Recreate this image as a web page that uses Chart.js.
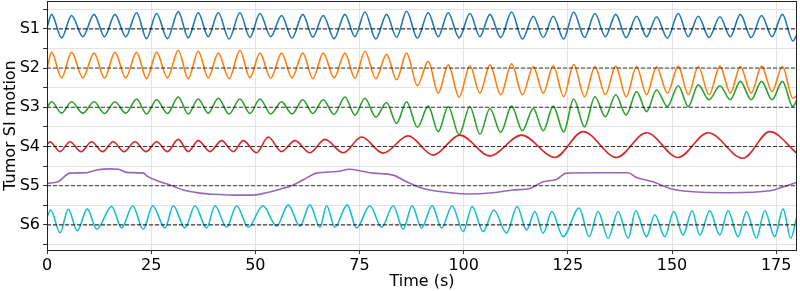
<!DOCTYPE html>
<html>
<head>
<meta charset="utf-8">
<script src="https://cdn.jsdelivr.net/npm/chart.js@4/dist/chart.umd.min.js"></script>
<style>
  body { margin: 0; background: #fff; }
  #wrap { width: 800px; height: 291px; }
</style>
</head>
<body>
<div id="wrap"><canvas id="chart1"></canvas></div>
<script>
// series names, top to bottom, and their vertical offsets
const seriesNames = ['S1', 'S2', 'S3', 'S4', 'S5', 'S6'];
const seriesOffset = [5, 4, 3, 2, 1, 0];
const seriesColor = ['#1f77b4', '#ff7f0e', '#2ca02c', '#d62728', '#9467bd', '#17becf'];
const xTicks = [0, 25, 50, 75, 100, 125, 150, 175];

// peaks / troughs (time in s, motion relative to the dashed line)
// S1, S2 and S3 breathe in step, so they share one time list
const s123Time = [0,1.1,3.5,5.9,8.6,11.3,13.8,16.3,18.9,21.5,23.9,26.3,28.9,31.5,33.9,36.3,38.7,41.1,43.7,46.3,48.7,51.1,53.7,56.3,58.8,61.4,63.8,66.3,68.9,71.5,73.9,76.3,78.9,81.5,83.9,86.3,88.9,91.5,93.9,96.3,98.9,101.5,103.9,106.3,108.9,111.5,114.1,116.7,119.1,121.5,124.0,126.4,129.0,131.5,134.0,136.5,139.0,141.5,143.9,146.3,148.9,151.5,153.9,156.3,158.9,161.5,164.0,166.4,169.0,171.5,174.0,176.5,179.0,180];
const s1Value = [0.03,0.37,-0.23,0.34,-0.2,0.37,-0.2,0.37,-0.2,0.41,-0.25,0.39,-0.25,0.44,-0.23,0.41,-0.2,0.41,-0.26,0.41,-0.22,0.39,-0.2,0.34,-0.24,0.37,-0.21,0.34,-0.25,0.37,-0.2,0.43,-0.26,0.37,-0.22,0.45,-0.24,0.41,-0.2,0.41,-0.23,0.39,-0.2,0.37,-0.22,0.43,-0.26,0.32,-0.22,0.32,-0.26,0.43,-0.22,0.39,-0.2,0.37,-0.22,0.32,-0.2,0.31,-0.24,0.39,-0.2,0.32,-0.22,0.31,-0.2,0.37,-0.22,0.34,-0.2,0.37,-0.31,-0.15];
const s2Value = [-0.02,0.40,-0.25,0.40,-0.25,0.38,-0.26,0.40,-0.25,0.40,-0.27,0.40,-0.25,0.45,-0.27,0.43,-0.25,0.38,-0.27,0.45,-0.25,0.38,-0.26,0.38,-0.25,0.38,-0.27,0.38,-0.25,0.38,-0.26,0.43,-0.27,0.35,-0.30,0.38,-0.45,0.17,-0.64,0.08,-0.74,0.06,-0.64,0.08,-0.68,0.11,-0.68,0.04,-0.64,0.06,-0.73,0.09,-0.73,0.04,-0.68,0.05,-0.73,0.04,-0.68,0.03,-0.64,0.05,-0.68,0.04,-0.68,0.05,-0.64,0.04,-0.64,0.05,-0.60,0.04,-0.77,-0.7];
const s3Value = [0.0,0.14,-0.15,0.14,-0.15,0.14,-0.16,0.14,-0.15,0.21,-0.17,0.19,-0.16,0.26,-0.17,0.21,-0.15,0.23,-0.17,0.21,-0.16,0.21,-0.17,0.14,-0.17,0.19,-0.16,0.19,-0.18,0.26,-0.2,0.23,-0.25,0.12,-0.41,0.14,-0.51,0.03,-0.62,0.02,-0.70,0.02,-0.69,-0.03,-0.64,0.03,-0.6,-0.03,-0.6,0.03,-0.63,0.21,-0.5,0.27,-0.24,0.32,-0.2,0.40,-0.11,0.44,0.02,0.55,0.02,0.57,0.19,0.55,0.19,0.66,0.19,0.66,0.19,0.66,0.02,0.19];

const s4Time = [0,0.72,3.12,5.52,8.16,10.72,13.32,15.91,18.47,21.11,23.75,26.32,28.91,31.5,33.9,36.3,39.11,41.91,44.7,47.1,50.31,53.09,56.31,59.5,63.1,66.7,71.09,75.5,80.69,86.68,92.68,99.09,106.29,113.89,121.88,128.67,136.68,143.88,151.46,158.66,167.05,173.46,179.94];
const s4Value = [0.05,0.12,-0.13,0.12,-0.13,0.12,-0.13,0.12,-0.13,0.12,-0.13,0.12,-0.13,0.18,-0.13,0.15,-0.13,0.15,-0.13,0.15,-0.16,0.24,-0.13,0.15,-0.16,0.18,-0.16,0.24,-0.17,0.27,-0.22,0.29,-0.24,0.29,-0.28,0.38,-0.28,0.35,-0.28,0.35,-0.3,0.38,-0.17];

const s5Time = [0,2.64,5.52,9.52,11.92,15.12,17.11,19.12,23.1,24.23,27.11,29.51,32.7,36.71,39.83,44.63,49.42,52.71,55.9,59.09,61.49,64.71,69.51,72.7,75.1,78.29,83.09,86.3,90.28,94.29,100.7,107.08,111.88,115.88,119.07,122.29,124.69,131.89,139.47,141.48,145.47,149.47,154.27,163.87,173.46,176.65,179.87];
const s5Value = [0.06,0.1,0.32,0.33,0.4,0.43,0.42,0.34,0.32,0.23,0.1,0.02,-0.11,-0.19,-0.22,-0.24,-0.24,-0.18,-0.09,0.02,0.15,0.32,0.36,0.42,0.38,0.32,0.27,0.1,-0.07,-0.15,-0.21,-0.18,-0.11,-0.07,0.1,0.16,0.32,0.33,0.33,0.21,0.1,-0.07,-0.15,-0.18,-0.13,-0.03,0.08];

const s6Time = [0,0.89,3.12,5.11,7.27,9.67,11.92,15.52,17.92,20.56,23.1,25.36,28.31,30.3,33.11,35.51,38.32,40.31,43.11,45.51,48.3,51.82,55.11,57.89,60.7,63.1,65.5,67.11,69.1,72.05,74.3,77.5,80.3,83.09,85.48,87.64,89.9,92.44,94.7,97.24,99.88,102.04,104.68,107.25,110.29,112.84,115.09,117.08,119.07,121.16,123.87,127.71,130.11,132.27,134.67,137.07,139.47,141.31,143.88,145.87,148.27,150.43,152.66,154.82,156.67,159.07,161.47,163.46,165.86,167.87,170.27,172.26,174.66,176.65,178.5,179.94];
const s6Value = [0.2,0.38,-0.2,0.4,-0.15,0.41,-0.11,0.47,-0.08,0.49,-0.11,0.49,-0.08,0.49,-0.08,0.49,-0.08,0.49,-0.06,0.49,-0.06,0.49,-0.03,0.51,-0.03,0.51,-0.06,0.49,-0.06,0.51,-0.08,0.49,-0.06,0.49,-0.11,0.49,-0.08,0.49,-0.08,0.49,-0.17,0.47,-0.17,0.38,-0.21,0.47,-0.13,0.34,-0.21,0.34,-0.3,0.43,-0.3,0.34,-0.34,0.34,-0.34,0.36,-0.3,0.26,-0.3,0.34,-0.26,0.36,-0.26,0.36,-0.26,0.36,-0.3,0.34,-0.34,0.36,-0.3,0.41,-0.34,0.2];

const seriesTime = [s123Time, s123Time, s123Time, s4Time, s5Time, s6Time];
const seriesValue = [s1Value, s2Value, s3Value, s4Value, s5Value, s6Value];

Chart.defaults.font.family = 'DejaVu Sans';
Chart.defaults.font.size = 16;
Chart.defaults.color = '#000';

let datasets = [];
seriesNames.forEach((name, i) => {
    datasets.push({
        label: name,
        data: seriesTime[i].map((t, k) => ({ x: t, y: seriesOffset[i] + seriesValue[i][k] })),
        borderColor: seriesColor[i],
        borderWidth: 1.6,
        pointRadius: 0,
        cubicInterpolationMode: 'monotone',
        order: 10 - i
    });
});
// dashed zero line for each trace
seriesOffset.forEach(off => {
    datasets.push({
        data: [{ x: 0, y: off }, { x: 180, y: off }],
        borderColor: 'rgba(0,0,0,0.75)',
        borderWidth: 1.1,
        borderDash: [4, 2],
        pointRadius: 0,
        order: 0
    });
});

// box around the plot, like matplotlib spines
const frame = {
    id: 'frame',
    afterDatasetsDraw(chart) {
        const a = chart.chartArea, c = chart.ctx;
        c.save();
        c.strokeStyle = '#222';
        c.lineWidth = 1;
        c.strokeRect(Math.round(a.left) + 0.5, Math.round(a.top) + 0.5, Math.round(a.right - a.left) - 1, Math.round(a.bottom - a.top));
        c.restore();
    }
};

const ctx = document.getElementById('chart1').getContext('2d');
const chart = new Chart(ctx, {
    type: 'line',
    data: { datasets: datasets },
    plugins: [frame],
    options: {
        animation: false,
        responsive: true,
        maintainAspectRatio: false,
        layout: { padding: { top: 1, right: 3, left: 0, bottom: 0 } },
        plugins: { legend: { display: false }, tooltip: { enabled: false } },
        scales: {
            x: {
                type: 'linear',
                min: 0,
                max: 180,
                afterBuildTicks: scale => { scale.ticks = xTicks.map(v => ({ value: v })); },
                afterFit: scale => { scale.height = 41; scale.paddingLeft = 0; scale.paddingRight = 0; },
                ticks: { padding: 2, maxRotation: 0, autoSkip: false },
                grid: { color: '#e3e3e3', tickColor: '#333', tickLength: 4 },
                border: { display: false },
                title: { display: true, text: 'Time (s)', padding: { top: 0, bottom: 0 } }
            },
            y: {
                type: 'linear',
                min: -0.64,
                max: 5.71,
                afterBuildTicks: scale => {
                    let t = [];
                    for (let v = -0.5; v <= 5.5; v += 0.5) t.push({ value: v });
                    scale.ticks = t;
                },
                afterFit: scale => { scale.width = 47; scale.paddingTop = 0; scale.paddingBottom = 0; },
                ticks: {
                    padding: 3,
                    autoSkip: false,
                    callback: v => {
                        const i = seriesOffset.indexOf(v);
                        return i >= 0 ? seriesNames[i] : '';
                    }
                },
                grid: { color: '#e3e3e3', tickColor: '#333', tickLength: 4 },
                border: { display: false },
                title: { display: true, text: 'Tumor SI motion', padding: { top: 1, bottom: 0 } }
            }
        }
    }
});
</script>
</body>
</html>
